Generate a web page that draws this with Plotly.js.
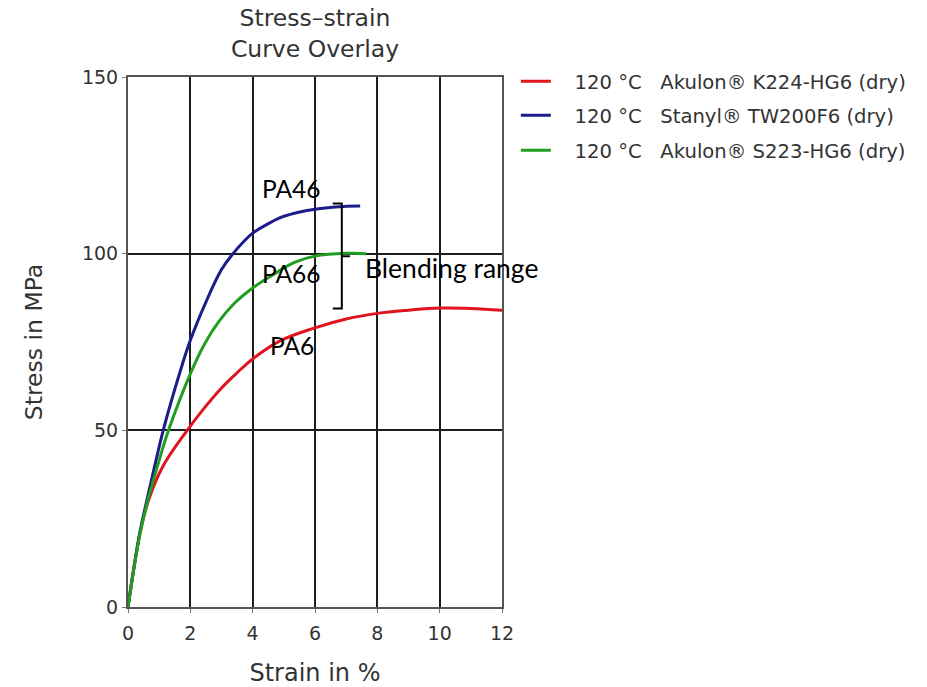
<!DOCTYPE html>
<html>
<head>
<meta charset="utf-8">
<script src="https://cdn.plot.ly/plotly-3.0.1.min.js"></script>
<style>html,body{margin:0;padding:0;background:#fff;}#chart{width:927px;height:687px;}</style>
</head>
<body>
<div id="chart"></div>
<script>
// ---- data ----
const seriesNames = [
  "\u00A0\u00A0\u00A0120 °C\u00A0\u00A0 Akulon® K224-HG6 (dry)",
  "\u00A0\u00A0\u00A0120 °C\u00A0\u00A0 Stanyl® TW200F6 (dry)",
  "\u00A0\u00A0\u00A0120 °C\u00A0\u00A0 Akulon® S223-HG6 (dry)"
];
const pa6Strain  = [0, 0.38, 0.65, 1.1, 1.9, 2.4, 3, 3.5, 4, 4.88, 6, 7, 8, 9, 10, 11, 12];
const pa6Stress  = [0, 20.7, 30, 39.5, 50, 55.8, 62, 66.3, 70.2, 75.3, 79, 81.5, 83.1, 84, 84.6, 84.5, 84];
const pa46Strain = [0, 0.38, 0.6, 0.86, 1.13, 1.72, 2, 2.5, 3, 3.35, 3.7, 4, 4.61, 5, 6, 7, 7.45];
const pa46Stress = [0, 21, 30, 40, 50, 68, 75.5, 86.3, 95.5, 99.8, 103.3, 105.8, 109, 110.6, 112.6, 113.4, 113.5];
const pa66Strain = [0, 0.38, 0.63, 0.95, 1.3, 2, 2.48, 2.9, 3.43, 4, 4.72, 5.36, 6, 7, 7.65];
const pa66Stress = [0, 20.5, 30, 40, 50, 66, 74.8, 80.6, 86.1, 90.3, 94.4, 97.6, 99.3, 100.1, 100];

const xTicks = [0, 2, 4, 6, 8, 10, 12];
const yTicks = [0, 50, 100, 150];

const labelTexts = ["PA46", "PA66", "PA6", "Blending range"];
const labelX = [5.23, 5.23, 5.26, 7.54];
const labelY = [118.5, 94.4, 74.1, 95.9];
const labelSizes = [24.5, 24.5, 24.5, 26.5];

// blending range bracket (data coords)
const bracketX = [6.57, 6.86, 7.12];   // hook left, spine, middle tick right
const bracketY = [84.5, 99.3, 114.2];  // bottom, middle, top

const colors = ["#e0141e", "#1c1c8a", "#1f9e1f"];

const traces = [
  {x: pa6Strain, y: pa6Stress, name: seriesNames[0], legend: "legend", line: {color: colors[0]}},
  {x: pa46Strain, y: pa46Stress, name: seriesNames[1], legend: "legend2", line: {color: colors[1]}},
  {x: pa66Strain, y: pa66Stress, name: seriesNames[2], legend: "legend3", line: {color: colors[2]}}
].map(t => Object.assign(t, {type: "scatter", mode: "lines", line: Object.assign(t.line, {width: 3, shape: "spline", smoothing: 1.1}), hoverinfo: "x+y"}));

const txtCol = "#333";
const tickFont = {family: "DejaVu Sans, sans-serif", size: 19, color: txtCol};
const legFont = {family: "DejaVu Sans, sans-serif", size: 19.6, color: txtCol};
function leg(y) {
  return {x: 1.037, xanchor: "left", y: y, yanchor: "middle", font: legFont,
          bgcolor: "rgba(0,0,0,0)", borderwidth: 0, itemwidth: 30};
}

const annotations = labelTexts.map((t, i) => ({
  x: labelX[i], y: labelY[i], xref: "x", yref: "y", text: t, showarrow: false,
  xanchor: i === 3 ? "left" : "center", yanchor: "middle",
  font: {family: "Lato, sans-serif", size: labelSizes[i], color: "#000"}
}));

const bracketPath = `M${bracketX[0]},${bracketY[2]} L${bracketX[1]},${bracketY[2]} L${bracketX[1]},${bracketY[0]} L${bracketX[0]},${bracketY[0]} M${bracketX[1]},${bracketY[1]} L${bracketX[2]},${bracketY[1]}`;

const layout = {
  width: 927, height: 687,
  margin: {l: 128, r: 425, t: 76.7, b: 80.3},
  paper_bgcolor: "#fff", plot_bgcolor: "#fff",
  title: {
    text: "Stress–strain<br>Curve Overlay",
    x: 0.5, xref: "paper", xanchor: "center",
    y: 0.962, yref: "container", yanchor: "top",
    font: {family: "DejaVu Sans, sans-serif", size: 23.5, color: txtCol}
  },
  xaxis: {
    range: [0, 12], tickvals: xTicks, ticktext: xTicks.map(String),
    showgrid: true, gridcolor: "#1e1e1e", gridwidth: 2,
    showline: true, linecolor: "#555", linewidth: 2, mirror: true,
    ticks: "outside", ticklen: 4, tickcolor: "#777", tickfont: tickFont,
    ticklabelstandoff: 4,
    zeroline: false, fixedrange: true,
    title: {text: "Strain in %", font: {family: "DejaVu Sans, sans-serif", size: 24, color: txtCol}, standoff: 21}
  },
  yaxis: {
    range: [0, 150], tickvals: yTicks, ticktext: yTicks.map(String),
    showgrid: true, gridcolor: "#1e1e1e", gridwidth: 2,
    showline: true, linecolor: "#555", linewidth: 2, mirror: true,
    ticks: "outside", ticklen: 4, tickcolor: "#777", tickfont: tickFont,
    zeroline: false, fixedrange: true,
    title: {text: "Stress in MPa", font: {family: "DejaVu Sans, sans-serif", size: 23.5, color: txtCol}, standoff: 33}
  },
  legend: leg(0.9915),
  legend2: leg(0.9275),
  legend3: leg(0.8615),
  showlegend: true,
  annotations: annotations,
  shapes: [{type: "path", xref: "x", yref: "y", path: bracketPath, line: {color: "#000", width: 2}}]
};

Plotly.newPlot("chart", traces, layout, {displayModeBar: false, staticPlot: true});
</script>
</body>
</html>
